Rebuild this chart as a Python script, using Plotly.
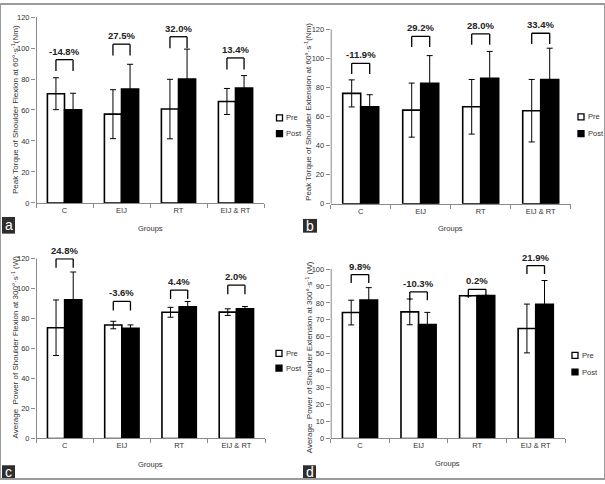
import plotly.graph_objects as go

# ---------------- data ----------------
categories = ["C", "EIJ", "RT", "EIJ & RT"]

a_pre = [70.5, 57.3, 60.6, 65.5]
a_pre_err = [10.3, 15.8, 19.2, 8.4]
a_post = [60.2, 73.5, 79.9, 74.2]
a_post_err = [10.6, 16.0, 19.4, 8.0]
a_pct = ["-14.8%", "27.5%", "32.0%", "13.4%"]
a_bracket = [92.5, 102.5, 107.3, 93.6]

b_pre = [75.9, 64.4, 66.7, 64.0]
b_pre_err = [9.3, 18.6, 18.8, 21.5]
b_post = [66.7, 82.9, 86.3, 85.5]
b_post_err = [8.3, 19.0, 18.5, 21.5]
b_pct = ["-11.9%", "29.2%", "28.0%", "33.4%"]
b_bracket = [96.6, 115.2, 116.8, 117.3]

c_pre = [73.7, 75.5, 84.0, 84.1]
c_pre_err = [18.5, 2.5, 3.3, 2.2]
c_post = [92.3, 73.3, 87.7, 86.3]
c_post_err = [18.5, 2.3, 3.5, 1.5]
c_pct = ["24.8%", "-3.6%", "4.4%", "2.0%"]
c_bracket = [119.6, 91.2, 98.8, 102.0]

d_pre = [74.3, 74.7, 84.2, 64.9]
d_pre_err = [7.3, 7.6, 0.0, 14.4]
d_post = [81.7, 67.2, 84.4, 79.2]
d_post_err = [7.3, 7.2, 0.0, 14.0]
d_pct = ["9.8%", "-10.3%", "0.2%", "21.9%"]
d_bracket = [96.7, 86.5, 88.0, 102.0]

y_titles = [
    "Peak Torque of Shoulder Flexion at 60°·s<sup>-1</sup>(Nm)",
    "Peak Torque of Shoulder Extension at 60°·s<sup>-1</sup>(Nm)",
    "Average  Power of Shoulder Flexion at 300°·s<sup>-1</sup> (W)",
    "Average  Power of Shoulder Extension at 300°·s<sup>-1</sup> (W)",
]
panel_letters = ["a", "b", "c", "d"]

# ---------------- layout helpers ----------------
W, H = 605, 484
NARROW = "Liberation Sans Narrow, Arial Narrow, Liberation Sans, Arial, sans-serif"
FONT = "Liberation Sans, Arial, sans-serif"


def px(x):
    return x / W


def py(y):
    return 1 - y / H


panels = [
    dict(pre=a_pre, pre_err=a_pre_err, post=a_post, post_err=a_post_err, pct=a_pct,
         br=a_bracket, leg_len=7.4, xd=(36, 264), yd=(13.3, 202.7), rng=(0, 120), top=120, dtick=20,
         yt=(15, 108), grp=(150, 229), legend=(279.5, 116, 132), lab=(2, 217, 15, 234)),
    dict(pre=b_pre, pre_err=b_pre_err, post=b_post, post_err=b_post_err, pct=b_pct,
         br=b_bracket, leg_len=7.4, xd=(330.7, 570.7), yd=(25.8, 203.5), rng=(0, 120), top=120, dtick=20,
         yt=(308, 110), grp=(450, 229), legend=(581, 115, 132), lab=(303, 219, 317, 233)),
    dict(pre=c_pre, pre_err=c_pre_err, post=c_post, post_err=c_post_err, pct=c_pct,
         br=c_bracket, leg_len=6.0, xd=(36, 265), yd=(259, 442.7), rng=(0, 120), top=120, dtick=20,
         yt=(15, 350), grp=(150, 469), legend=(279, 356, 371), lab=(2, 470, 15, 483)),
    # panel d: range slightly above 100 so the highest bracket is not clipped;
    # its axis line is drawn only up to 100 as in the original.
    dict(pre=d_pre, pre_err=d_pre_err, post=d_post, post_err=d_post_err, pct=d_pct,
         br=d_bracket, leg_len=5.0, xd=(330.7, 565), yd=(261.4, 442.7), rng=(0, 105), top=100, dtick=10,
         yt=(309, 360), grp=(447, 468), legend=(575, 358, 375), lab=(303, 470, 316, 483)),
]

fig = go.Figure()
shapes = []
annotations = []
layout_axes = {}
AX = "#8a8a8a"

for i, p in enumerate(panels):
    n = "" if i == 0 else str(i + 1)
    xa, ya = "x" + n, "y" + n
    fig.add_trace(go.Bar(
        x=categories, y=p["pre"], name="Pre", xaxis=xa, yaxis=ya, showlegend=False,
        marker=dict(color="white", line=dict(color="black", width=1.6)),
        error_y=dict(type="data", array=p["pre_err"], color="black", thickness=1, width=3),
    ))
    fig.add_trace(go.Bar(
        x=categories, y=p["post"], name="Post", xaxis=xa, yaxis=ya, showlegend=False,
        marker=dict(color="black", line=dict(color="black", width=1.6)),
        error_y=dict(type="data", array=p["post_err"], color="black", thickness=1, width=3),
    ))

    layout_axes["xaxis" + n] = dict(
        domain=[px(p["xd"][0]), px(p["xd"][1])], anchor=ya, type="category",
        range=[-0.5, 3.5], showline=True, linecolor=AX, linewidth=1,
        ticks="outside", tickson="boundaries", ticklen=4, tickcolor=AX,
        tickfont=dict(size=7.5, color="#333", family=FONT), showgrid=False, zeroline=False,
    )
    tickvals = list(range(0, p["top"] + 1, p["dtick"]))
    layout_axes["yaxis" + n] = dict(
        domain=[py(p["yd"][1]), py(p["yd"][0])], anchor=xa,
        range=list(p["rng"]), tickmode="array", tickvals=tickvals, showline=False,
        ticks="outside", ticklen=4, tickcolor=AX,
        tickfont=dict(size=7.5, color="#333", family=FONT), showgrid=False, zeroline=False,
    )
    # y-axis line (from 0 to the last tick)
    shapes.append(dict(type="line", xref=xa, yref=ya, x0=-0.5, x1=-0.5, y0=0, y1=p["top"],
                       line=dict(color=AX, width=2)))

    # brackets and percentage labels
    for k, top in enumerate(p["br"]):
        x0, x1 = k - 0.15, k + 0.15
        low = top - p["leg_len"]
        ln = dict(color="black", width=1.3)
        shapes.append(dict(type="line", xref=xa, yref=ya, x0=x0, x1=x0, y0=low, y1=top, line=ln))
        shapes.append(dict(type="line", xref=xa, yref=ya, x0=x0, x1=x1, y0=top, y1=top, line=ln))
        shapes.append(dict(type="line", xref=xa, yref=ya, x0=x1, x1=x1, y0=low, y1=top, line=ln))
        annotations.append(dict(
            x=k, y=top, xref=xa, yref=ya, text="<b>" + p["pct"][k] + "</b>",
            showarrow=False, xanchor="center", yanchor="bottom", yshift=1,
            font=dict(size=9.5, color="#222", family=NARROW),
        ))

    # y-axis title
    annotations.append(dict(
        x=px(p["yt"][0]), y=py(p["yt"][1]), xref="paper", yref="paper",
        xanchor="center", yanchor="middle",
        text=y_titles[i], textangle=-90, showarrow=False,
        font=dict(size=8, color="#333", family=FONT),
    ))
    # x-axis title
    annotations.append(dict(
        x=px(p["grp"][0]), y=py(p["grp"][1]), xref="paper", yref="paper",
        xanchor="center", yanchor="middle",
        text="Groups", showarrow=False, font=dict(size=7.5, color="#333", family=FONT),
    ))
    # legend (Pre / Post)
    lx, ly1, ly2 = p["legend"]
    for lyy, fill, lbl in [(ly1, "white", "Pre"), (ly2, "black", "Post")]:
        shapes.append(dict(type="rect", xref="paper", yref="paper",
                           x0=px(lx - 3), x1=px(lx + 3), y0=py(lyy + 3), y1=py(lyy - 3),
                           fillcolor=fill, line=dict(color="black", width=1.3)))
        annotations.append(dict(
            x=px(lx + 4.5), y=py(lyy), xref="paper", yref="paper", text=lbl,
            xanchor="left", yanchor="middle", showarrow=False,
            font=dict(size=7.5, color="#333", family=FONT),
        ))
    # panel letter box
    x0b, y0b, x1b, y1b = p["lab"]
    shapes.append(dict(type="rect", xref="paper", yref="paper",
                       x0=px(x0b), x1=px(x1b), y0=py(y1b), y1=py(y0b),
                       fillcolor="#2e2e2e", line=dict(width=0)))
    annotations.append(dict(
        x=px((x0b + x1b) / 2), y=py((y0b + y1b) / 2), xref="paper", yref="paper",
        xanchor="center", yanchor="middle",
        text=panel_letters[i], showarrow=False,
        font=dict(size=14, color="white", family=FONT),
    ))

# outer frame
shapes.append(dict(type="rect", xref="paper", yref="paper", x0=0, x1=1, y0=0, y1=1,
                   line=dict(color="#9a9a9a", width=2)))

fig.update_layout(
    width=W, height=H, margin=dict(l=0, r=0, t=0, b=0),
    paper_bgcolor="white", plot_bgcolor="white",
    barmode="group", bargap=0.4, bargroupgap=0,
    showlegend=False, shapes=shapes, annotations=annotations,
    **layout_axes,
)

fig.write_html("out.html", config={"displayModeBar": False},
               post_script="document.body.style.margin='0';document.body.style.overflow='hidden';")
